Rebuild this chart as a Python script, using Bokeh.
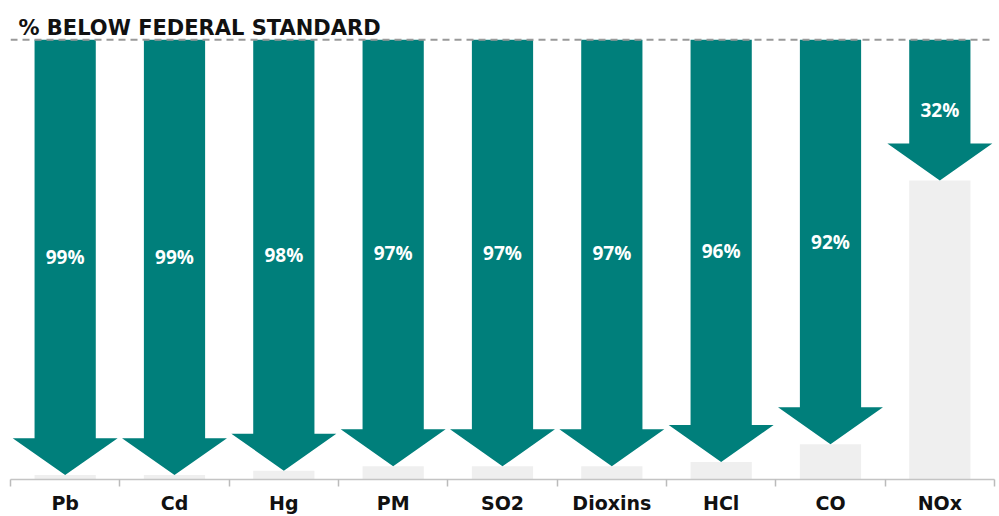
from bokeh.plotting import figure
from bokeh.models import Range1d, FixedTicker, Span, Label, ColumnDataSource
from bokeh.core.properties import value
from bokeh.embed import file_html
from bokeh.resources import INLINE

categories = ["Pb", "Cd", "Hg", "PM", "SO2", "Dioxins", "HCl", "CO", "NOx"]
pct_below = [99, 99, 98, 97, 97, 97, 96, 92, 32]
title_text = "% BELOW FEDERAL STANDARD"

TEAL = "#007f7b"
GRAY_BAR = "#efefef"
SHAFT_W = 0.56
HEAD_W = 0.96
HEAD_H = 8.4

centers = [i + 0.5 for i in range(len(categories))]

p = figure(width=999, height=516, output_backend="svg", toolbar_location=None,
           x_range=Range1d(0, len(categories)), y_range=Range1d(0, 108.9),
           min_border_left=10, min_border_right=5, min_border_top=0, min_border_bottom=30)
p.outline_line_color = None
p.xgrid.visible = False
p.ygrid.visible = False
p.yaxis.visible = False
p.background_fill_color = "white"
p.border_fill_color = "white"

# gray remainder bars
p.vbar(x=centers, top=[100 - v for v in pct_below], bottom=0, width=SHAFT_W,
       fill_color=GRAY_BAR, line_color=None)

# arrows
xs, ys = [], []
for c, v in zip(centers, pct_below):
    tip = 100 - v
    base = tip + HEAD_H
    xs.append([c - SHAFT_W / 2, c + SHAFT_W / 2, c + SHAFT_W / 2, c + HEAD_W / 2, c,
               c - HEAD_W / 2, c - SHAFT_W / 2])
    ys.append([100, 100, base, base, tip, base, base])
p.patches(xs, ys, fill_color=TEAL, line_color=None)

# dashed reference line
p.add_layout(Span(location=100, dimension="width", line_color="#999999",
                  line_width=2, line_dash="7 5"))

# value labels
src = ColumnDataSource(dict(x=centers, y=[100 - v / 2 for v in pct_below],
                            t=[f"{v}%" for v in pct_below]))
p.text(x="x", y="y", text="t", source=src, text_color="white",
       text_font=value("Open Sans"), text_font_style="bold", text_font_size="19px",
       text_align="center", text_baseline="middle")

# title
p.add_layout(Label(x=0.073, y=102.75, text=title_text, text_font="DejaVu Sans",
                   text_font_style="bold", text_font_size="21px", text_color="#111111",
                   text_baseline="alphabetic"))

ax = p.xaxis[0]
ax.ticker = FixedTicker(ticks=centers, minor_ticks=list(range(len(categories) + 1)))
ax.major_label_overrides = {c: n for c, n in zip(centers, categories)}
ax.major_tick_out = 0
ax.major_tick_in = 0
ax.minor_tick_out = 7
ax.minor_tick_in = 0
ax.minor_tick_line_color = "#bbbbbb"
ax.minor_tick_line_width = 1.5
ax.axis_line_color = "#c4c4c4"
ax.axis_line_width = 1.5
ax.major_label_standoff = 5
ax.major_label_text_font = "DejaVu Sans"
ax.major_label_text_font_style = "bold"
ax.major_label_text_font_size = "19px"
ax.major_label_text_color = "#111111"

open("out.html", "w").write(file_html(p, INLINE))
